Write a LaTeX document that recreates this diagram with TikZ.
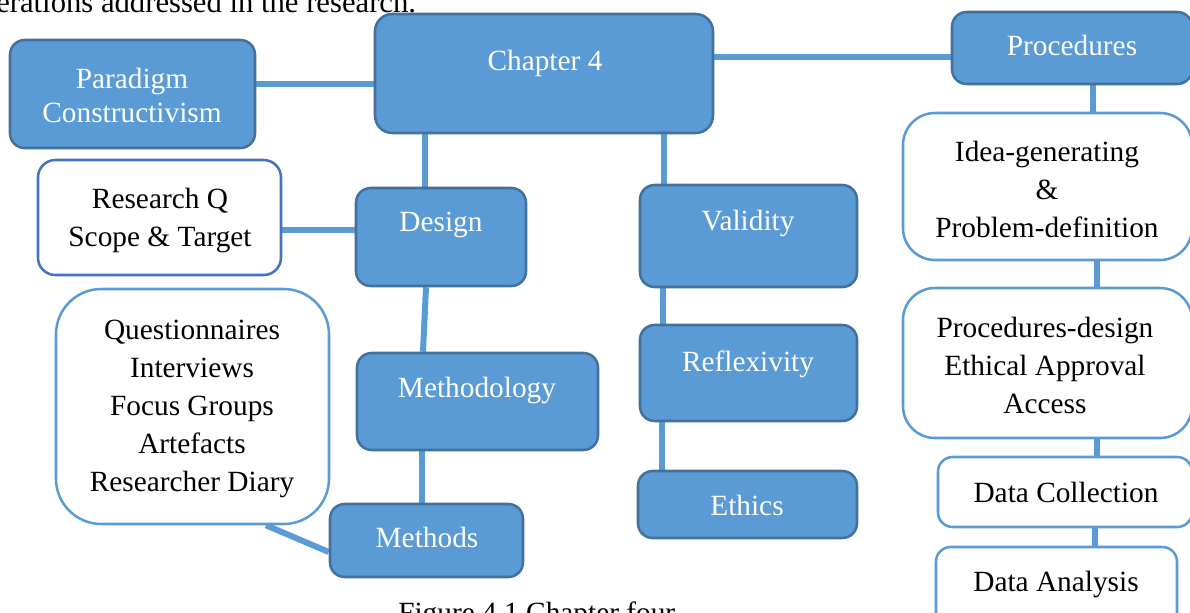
\documentclass[tikz,border=0pt]{standalone}
\usepackage{fontspec}
\setmainfont{Liberation Serif}
\usetikzlibrary{backgrounds}
\definecolor{boxfill}{HTML}{5B9BD5}
\definecolor{boxedge}{HTML}{41719C}
\definecolor{linkblue}{HTML}{5B9BD5}
\definecolor{qedge}{HTML}{4472C4}
\tikzset{
  sz/.style 2 args={minimum width=#1*0.75pt, minimum height=#2*0.75pt},
  bluebox/.style={draw=boxedge, line width=1.9pt, fill=boxfill, rounded corners=11pt, inner sep=0pt},
  whitebox/.style={draw=linkblue, line width=1.9pt, fill=white, rounded corners=#1, inner sep=0pt},
  wtext/.style={text=white, font=\fontsize{22}{28.5}\selectfont, align=center, inner sep=0pt},
  btext/.style={text=black, font=\fontsize{22}{28.5}\selectfont, align=center, inner sep=0pt},
  link/.style={draw=linkblue, line width=4.5pt},
}
\begin{document}
\begin{tikzpicture}[x=0.75pt,y=-0.75pt]
\useasboundingbox (0,0) rectangle (1190,612);
\clip (0,0) rectangle (1190,612);

% running text above and caption below
\node[anchor=base west, inner sep=0pt, font=\fontsize{23}{26}\selectfont] (lead) at (-4,12) {erations addressed in the research.};
\node[anchor=base west, inner sep=0pt, font=\fontsize{22}{26}\selectfont] (cap) at (398,622) {Figure 4.1 Chapter four};

% boxes
\node[bluebox, sz={245}{108}] (para) at (132.5,94) {};
\node[bluebox, sz={338}{119}, rounded corners=13pt] (chap) at (544,73.5) {};
\node[bluebox, sz={240}{72}] (proc) at (1072,48) {};
\node[whitebox=13pt, draw=qedge, sz={243}{115}] (rq) at (159.5,217.5) {};
\node[bluebox, sz={170}{98}] (design) at (441,237) {};
\node[bluebox, sz={217}{102}] (valid) at (748.5,236) {};
\node[whitebox=34pt, sz={273}{235}] (quest) at (192.5,406.5) {};
\node[bluebox, sz={241}{97}] (methy) at (477.5,401.5) {};
\node[bluebox, sz={217}{96}] (refl) at (748.5,373) {};
\node[bluebox, sz={193}{73}] (methods) at (426.5,540.5) {};
\node[bluebox, sz={219}{67}] (ethics) at (747.5,504.5) {};
\node[whitebox=24pt, sz={289}{147}] (idea) at (1047.5,186.5) {};
\node[whitebox=24pt, sz={289}{150}] (pdes) at (1047.5,363) {};
\node[whitebox=11pt, sz={254}{70}] (dcol) at (1065,492) {};
\node[whitebox=11pt, sz={241}{83}] (dana) at (1056.5,588.5) {};

% texts
\node[wtext, font=\fontsize{22}{25.5}\selectfont] (paraT) at (132,95) {Paradigm\\Constructivism};
\node[wtext] (chapT) at (545,63) {Chapter 4};
\node[wtext] (procT) at (1072,45) {Procedures};
\node[btext] (rqT) at (160,220) {Research Q\\Scope \& Target};
\node[wtext] (designT) at (441,225) {Design};
\node[wtext] (validT) at (748,223) {Validity};
\node[btext] (questT) at (192,408.5) {Questionnaires\\Interviews\\Focus Groups\\Artefacts\\Researcher Diary};
\node[wtext] (methyT) at (477,390) {Methodology};
\node[wtext] (reflT) at (748,364) {Reflexivity};
\node[wtext] (methodsT) at (427,537) {Methods};
\node[wtext] (ethicsT) at (747,505) {Ethics};
\node[btext] (ideaT) at (1047,189.5) {Idea-generating\\\&\\Problem-definition};
\node[btext] (pdesT) at (1045,365) {Procedures-design\\Ethical Approval\\Access};
\node[btext] (dcolT) at (1066,492) {Data Collection};
\node[btext] (danaT) at (1056,584) {Data Analysis};

% connectors, drawn beneath the boxes
\begin{scope}[on background layer]
\draw[link] (para.east |- 0,84) -- (chap.west |- 0,84);
\draw[link] (chap.east |- 0,57) -- (proc.west |- 0,57);
\draw[link] (chap.south -| 425,0) -- (design.north -| 425,0);
\draw[link] (chap.south -| 664,0) -- (valid.north -| 664,0);
\draw[link] (rq.east |- 0,230) -- (design.west |- 0,230);
\draw[link] (design.south -| 426,0) -- (methy.north -| 423,0);
\draw[link] (methy.south -| 422,0) -- (methods.north -| 422,0);
\draw[link] (valid.south -| 663,0) -- (refl.north -| 663,0);
\draw[link] (refl.south -| 662,0) -- (ethics.north -| 662,0);
\draw[link] (quest.south -| 266,0) -- (methods.west |- 0,552);
\draw[link] (proc.south -| 1093,0) -- (idea.north -| 1093,0);
\draw[link] (idea.south -| 1097,0) -- (pdes.north -| 1097,0);
\draw[link] (pdes.south -| 1097,0) -- (dcol.north -| 1097,0);
\draw[link] (dcol.south -| 1095,0) -- (dana.north -| 1095,0);
\end{scope}
\end{tikzpicture}
\end{document}
